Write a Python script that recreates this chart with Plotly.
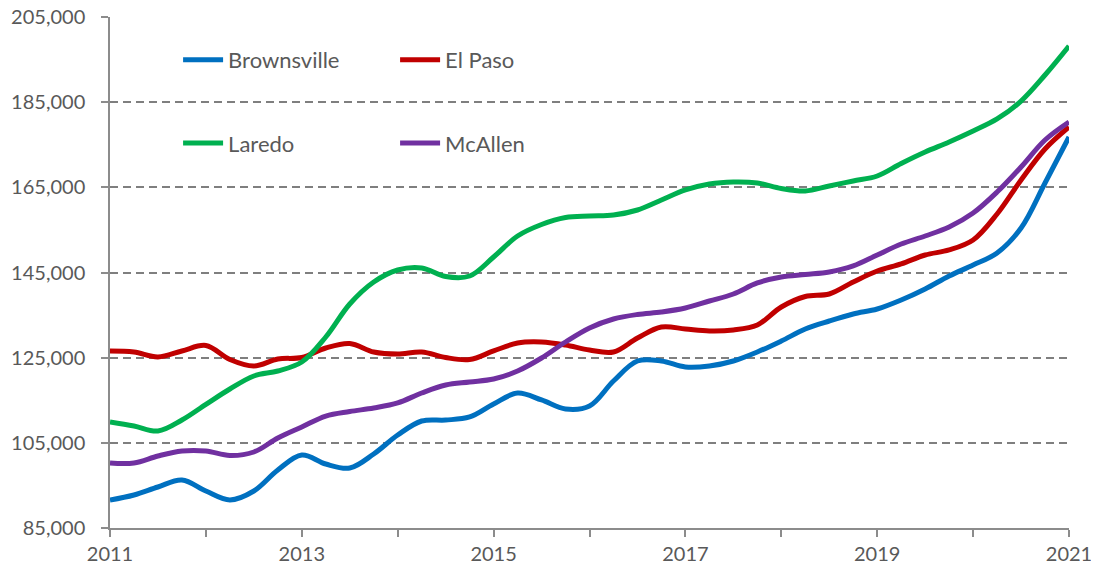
import plotly.graph_objects as go

# quarterly median home price, 2011 Q1 .. 2021 Q1
quarters = [2011 + q / 4 for q in range(41)]

brownsville = [91580, 92750, 94630, 96270, 93690, 91580, 93690, 98620, 102140, 100030,
               99090, 102380, 106840, 110130, 110360, 111070, 114120, 116700, 115060, 112950,
               113650, 119520, 124220, 124220, 122810, 123040, 124220, 126330, 128910, 131730,
               133610, 135260, 136430, 138540, 141130, 144180, 146760, 149580, 155450, 166020,
               176820]
el_paso = [126570, 126330, 125160, 126570, 127860, 124570, 123040, 124690, 125040, 127270,
           128330, 126330, 125860, 126330, 125040, 124570, 126570, 128440, 128680, 127970,
           126800, 126330, 129620, 132200, 131730, 131270, 131500, 132670, 136900, 139360,
           139950, 142770, 145350, 147000, 149110, 150290, 152630, 158740, 166720, 174000,
           179170]
laredo = [109890, 108950, 107780, 110360, 114030, 117640, 120700, 121870, 123980, 129850,
          137600, 142770, 145590, 146060, 144060, 144180, 148640, 153570, 156270, 157920,
          158270, 158500, 159680, 162030, 164380, 165780, 166250, 166020, 164730, 164140,
          165320, 166490, 167660, 170600, 173300, 175650, 178230, 181050, 185270, 191380,
          198190]
mcallen = [100270, 100270, 101910, 103080, 103080, 102030, 102850, 106140, 108720, 111300,
           112360, 113180, 114360, 116700, 118580, 119290, 119990, 121870, 124920, 128680,
           131970, 134080, 135140, 135730, 136660, 138310, 139950, 142540, 143940, 144530,
           145120, 146530, 149110, 151690, 153570, 155690, 158970, 163900, 169780, 176120,
           180340]

series = [
    ("Brownsville", brownsville, "#0070C0", "legend"),
    ("El Paso", el_paso, "#C00000", "legend"),
    ("Laredo", laredo, "#00B050", "legend2"),
    ("McAllen", mcallen, "#7030A0", "legend2"),
]

fig = go.Figure()
for name, vals, color, leg in series:
    fig.add_trace(go.Scatter(
        x=quarters, y=vals, name=name, mode="lines",
        line=dict(color=color, width=5, shape="spline", smoothing=1),
        legend=leg,
    ))

grey_text = "#595959"
axis_grey = "#8C8C8C"
font = dict(family="Lato", size=20, color=grey_text)
leg_font = dict(family="Lato", size=22, color=grey_text)

leg_style = dict(orientation="h", xanchor="left", yanchor="middle", x=0.071,
                 entrywidth=162, entrywidthmode="pixels",
                 bgcolor="rgba(0,0,0,0)", font=leg_font, itemwidth=40)

# the page body adds an 8px margin, so the figure is a little smaller than the window
fig.update_layout(
    width=1091, height=565,
    margin=dict(l=102, r=30, t=9, b=45),
    plot_bgcolor="white", paper_bgcolor="white",
    font=font,
    showlegend=True,
    legend=dict(leg_style, y=0.916),
    legend2=dict(leg_style, y=0.753),
    xaxis=dict(
        range=[2011, 2021], dtick=2, tick0=2011, tickformat="d",
        showgrid=False, zeroline=False, automargin=False,
        showline=True, linecolor=axis_grey, linewidth=1.5,
        ticks="outside", ticklen=7, tickwidth=1.5, tickcolor=axis_grey,
        minor=dict(dtick=1, tick0=2011, ticks="outside", ticklen=7,
                   tickwidth=1.5, tickcolor=axis_grey, showgrid=False),
        tickfont=font, ticklabeloverflow="allow",
    ),
    yaxis=dict(
        range=[85000, 205000], dtick=20000, tick0=85000, tickformat=",d",
        showgrid=True, gridcolor="#7F7F7F", gridwidth=1.5, griddash="8px,5px",
        zeroline=False, automargin=False,
        showline=True, linecolor=axis_grey, linewidth=1.5,
        ticks="outside", ticklen=7, tickwidth=1.5, tickcolor=axis_grey,
        ticklabelstandoff=12, ticklabeloverflow="allow",
        tickfont=font,
    ),
)

fig.write_html("out.html")
